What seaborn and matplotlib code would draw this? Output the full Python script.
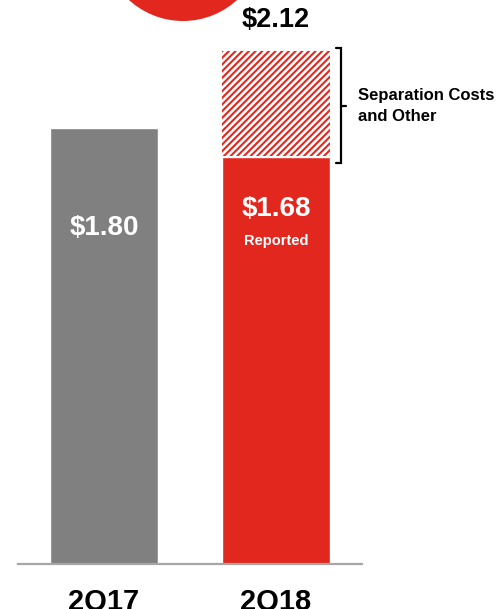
import numpy as np
import seaborn as sns
import pandas as pd
import matplotlib.pyplot as plt
from matplotlib.patches import Circle

quarters = ["2Q17", "2Q18"]
reported = [1.80, 1.68]
adjusted = [None, 2.12]
bar_colors = ["#808080", "#e2271e"]

red = "#e2271e"

sns.set_style("white")
plt.rcParams["font.family"] = ["Liberation Sans", "DejaVu Sans"]
plt.rcParams["text.color"] = "black"
plt.rcParams["xtick.color"] = "black"
plt.rcParams["hatch.linewidth"] = 1.5
plt.rcParams["hatch.color"] = red

fig = plt.figure(figsize=(5.02, 6.09), dpi=100)
ax = fig.add_axes([18 / 502, 45 / 609, 344 / 502, 524 / 609])

df = pd.DataFrame({"quarter": quarters, "eps": reported})
sns.barplot(data=df, x="quarter", y="eps", hue="quarter", palette=bar_colors,
            width=0.63, saturation=1, legend=False, ax=ax)

# separation costs slice on top of 2Q18
gap = adjusted[1] - reported[1]
ax.bar(1, gap - 0.005, bottom=reported[1] + 0.005, width=0.63,
       facecolor="white", edgecolor=red, hatch="/////", linewidth=0)

ax.set_xlim(-0.5, 1.5)
ax.set_ylim(0, 524 / 242)
ax.set_xlabel("")
ax.set_ylabel("")
ax.set_yticks([])
ax.tick_params(axis="x", length=0, pad=17)
for lbl in ax.get_xticklabels():
    lbl.set_fontsize(21)
    lbl.set_fontweight("bold")
    lbl.set_color("black")
for s in ["top", "right", "left"]:
    ax.spines[s].set_visible(False)
ax.spines["bottom"].set_color("#a6a6a6")
ax.spines["bottom"].set_linewidth(1.6)

# value labels
ax.annotate(f"${reported[0]:.2f}", (0, reported[0]), xytext=(0, -72),
            textcoords="offset points", ha="center", va="center",
            color="white", fontsize=20, fontweight="bold")
ax.annotate(f"${reported[1]:.2f}", (1, reported[1]), xytext=(0, -37),
            textcoords="offset points", ha="center", va="center",
            color="white", fontsize=20, fontweight="bold")
ax.annotate("Reported", (1, reported[1]), xytext=(0, -60),
            textcoords="offset points", ha="center", va="center",
            color="white", fontsize=10.5, fontweight="bold")
ax.annotate(f"${adjusted[1]:.2f}", (1, adjusted[1]), xytext=(0, 13),
            textcoords="offset points", ha="center", va="bottom",
            color="black", fontsize=19.5, fontweight="bold")

# bracket
bx = 1.378
btop = adjusted[1] + 0.012
bbot = reported[1] - 0.023
bmid = (btop + bbot) / 2
ax.plot([bx - 0.03, bx, bx, bx - 0.03], [btop, btop, bbot, bbot],
        color="black", lw=1.6, clip_on=False, solid_joinstyle="miter")
ax.plot([bx, bx + 0.03], [bmid, bmid], color="black", lw=1.6, clip_on=False)
ax.text(1.477, bmid, "Separation Costs\nand Other", ha="left", va="center",
        fontsize=12, fontweight="bold", linespacing=1.5)

# decorative circle at the top (inches from bottom-left)
fig.add_artist(Circle((1.83, 6.68), 0.80, transform=fig.dpi_scale_trans,
                      facecolor=red, edgecolor="none"))

fig.savefig("out.png", dpi=100)
